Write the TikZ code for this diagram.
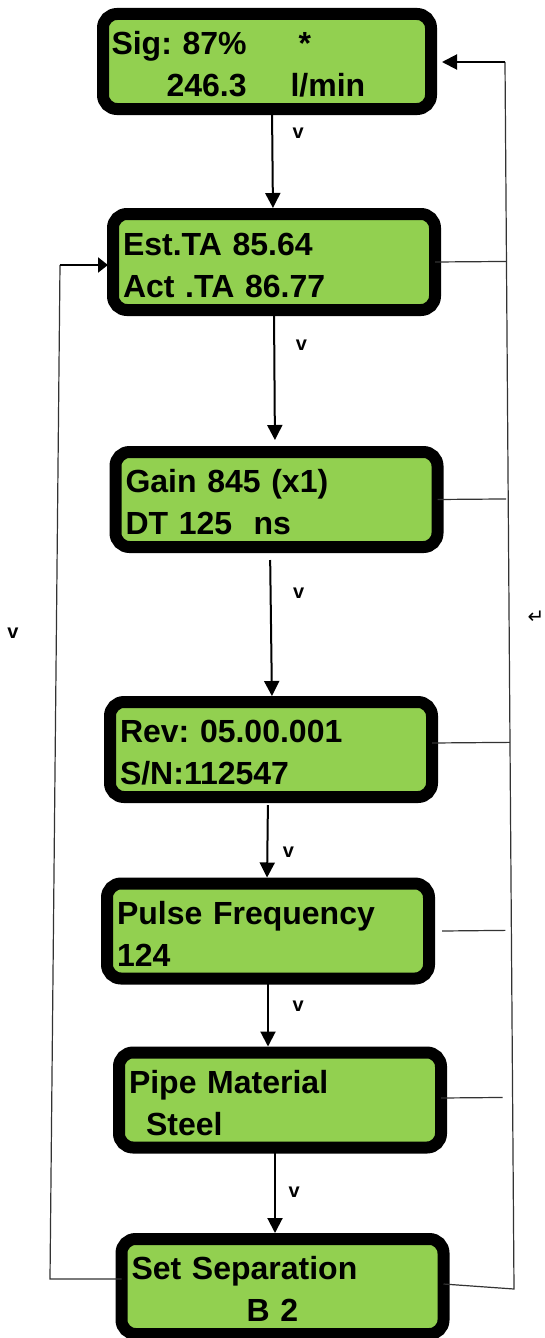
\documentclass[tikz,border=0pt]{standalone}
\usepackage{fontspec}
\setmainfont{Liberation Sans}
\newfontfamily\arrowfont{DejaVu Sans}
\usetikzlibrary{arrows.meta, calc}
\definecolor{lcd}{HTML}{92D050}
\definecolor{wire}{HTML}{333333}
\newcommand\topstrut{\rule{0pt}{30pt}}
\newcommand\botstrut{\rule[-2pt]{0pt}{2pt}}
\frenchspacing

\begin{document}
\begin{tikzpicture}[x=1pt, y=-1pt,
  screen/.style={rectangle, rounded corners=14pt, draw=black, line width=12pt, fill=lcd,
    minimum width=322pt, minimum height=95pt, text width=302pt, align=left,
    inner sep=0pt, outer sep=0pt,
    font=\bfseries\fontsize{32}{42}\selectfont,
    execute at begin node=\topstrut, execute at end node=\botstrut},
  flow/.style={line width=2pt, -{Triangle[length=15pt, width=15pt]}},
  back/.style={wire, line width=1.2pt},
  vlbl/.style={font=\bfseries\fontsize{20}{20}\selectfont, inner sep=0pt}
]
  \useasboundingbox (0,0) rectangle (545,1338);

  % display screens
  \node[screen, minimum width=328pt, text width=311pt] (sig) at (267,61.5)
    {Sig: 87\%\hspace{52pt}*\\\hspace*{55pt}246.3\hspace{44pt}l/min};
  \node[screen, minimum height=96pt] (est) at (274,262) {Est.TA 85.64\\Act .TA 86.77};
  \node[screen] (gain) at (276.5,499.5) {Gain 845 (x1)\\DT 125\ \ ns};
  \node[screen] (rev) at (271,749.5) {Rev: 05.00.001\\S/N:112547};
  \node[screen] (pulse) at (268,931) {Pulse Frequency\\124};
  \node[screen] (pipe) at (280,1100) {Pipe Material\\\hspace*{17pt}Steel};
  \node[screen] (sep) at (282.5,1286.5) {Set Separation\\\hspace*{115pt}B 2};

  % scroll down
  \draw[flow, shorten >=6pt] ([xshift=5pt]sig.south) -- node[vlbl, pos=.23, right=19.5pt] {v} ([xshift=-1pt]est.north);
  \draw[flow, shorten >=12pt] (est.south) -- node[vlbl, pos=.25, right=20.5pt] {v} ([xshift=-1.5pt]gain.north);
  \draw[flow, shorten <=13pt, shorten >=6pt] ([xshift=-6.5pt]gain.south) -- node[vlbl, pos=.30, right=21.5pt] {v} ([xshift=1pt]rev.north);
  \draw[flow, shorten <=8pt, shorten >=6pt] ([xshift=-3pt]rev.south) -- node[vlbl, pos=.64, right=14.5pt] {v} ([xshift=-1pt]pulse.north);
  \draw[flow, shorten >=6pt] (pulse.south) -- node[vlbl, pos=.37, right=23.5pt] {v} ([xshift=-12pt]pipe.north);
  \draw[flow, shorten >=6pt] ([xshift=-5pt]pipe.south) -- node[vlbl, pos=.49, right=12.5pt] {v} ([xshift=-7.5pt]sep.north);

  % return on the right
  \coordinate (rtop) at (505,62);
  \coordinate (rbot) at (514,1289);
  \draw[back] ([yshift=2.5pt]sep.east) -- (rbot) -- (rtop);
  \draw[flow, shorten >=11pt] (rtop) -- (sig.east |- rtop);
  \draw[back] (est.east) -- ($(rtop)!(est.east)!(rbot)$);
  \draw[back, shorten >=2pt] (gain.east) -- ($(rtop)!(gain.east)!(rbot)$);
  \draw[back] ([yshift=6.5pt]rev.east) -- ($(rtop)!([yshift=6.5pt]rev.east)!(rbot)$);
  \draw[back, shorten >=6pt] ([xshift=13pt]pulse.east) -- ($(rtop)!(pulse.east)!(rbot)$);
  \draw[back, shorten >=10pt] ([yshift=2pt]pipe.east) -- ($(rtop)!([yshift=2pt]pipe.east)!(rbot)$);

  % return on the left
  \coordinate (lbot) at (50,1279);
  \coordinate (ltop) at (60,265);
  \draw[back] (sep.west |- lbot) -- (lbot) -- (ltop);
  \draw[flow, -{Triangle[length=10pt, width=15pt]}, shorten >=5pt] (ltop) -- (est.west |- ltop);

  \node[vlbl] (lv) at (13,633) {v};
  \node[font=\arrowfont\fontsize{20}{20}\selectfont, inner sep=0pt] (rv) at (536,617) {↵};
\end{tikzpicture}
\end{document}
